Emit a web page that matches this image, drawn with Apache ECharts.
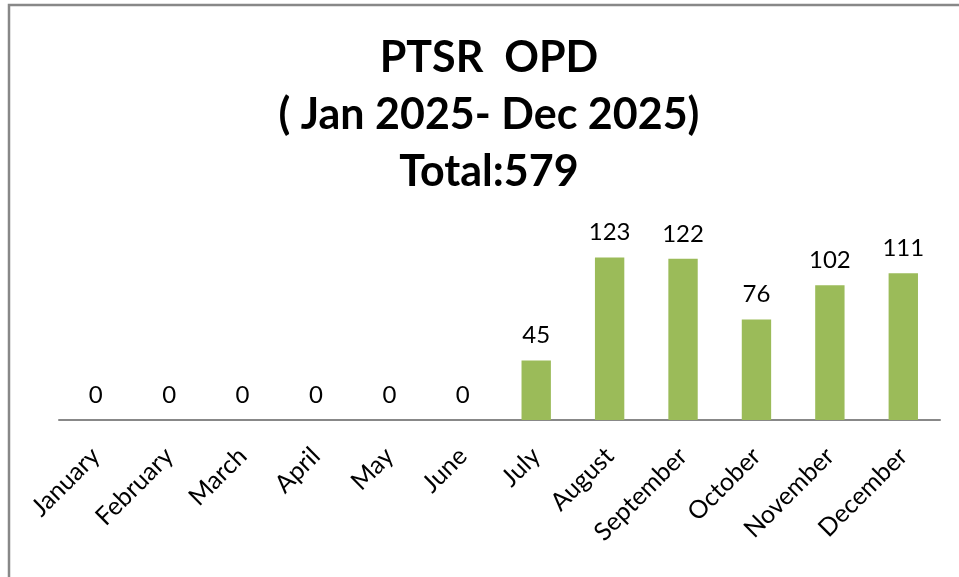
<!DOCTYPE html>
<html>
<head>
<meta charset="utf-8">
<script src="https://cdn.jsdelivr.net/npm/echarts@6/dist/echarts.min.js"></script>
<style>
  html, body { margin: 0; padding: 0; background: #fff; }
  #main { width: 959px; height: 577px; }
</style>
</head>
<body>
<div id="main"></div>
<script>
var months = ['January', 'February', 'March', 'April', 'May', 'June',
              'July', 'August', 'September', 'October', 'November', 'December'];
var opdCounts = [0, 0, 0, 0, 0, 0, 45, 123, 122, 76, 102, 111];
var titleLines = ['PTSR  OPD', '( Jan 2025- Dec 2025)', 'Total:579'];

var myChart = echarts.init(document.getElementById('main'));

var option = {
    backgroundColor: '#fff',
    animation: false,
    title: {
        text: titleLines.join('\n'),
        left: 489,
        textAlign: 'center',
        top: 30,
        padding: 0,
        textStyle: {
            fontFamily: 'Lato',
            fontWeight: 'bold',
            fontSize: 43,
            lineHeight: 57,
            color: '#000'
        }
    },
    graphic: [{
        type: 'rect',
        shape: { x: 9, y: 5, width: 1000, height: 700 },
        style: { fill: 'none', stroke: '#888', lineWidth: 2.5 },
        silent: true
    }],
    grid: { left: 59, right: 19, top: 235, bottom: 157 },
    xAxis: {
        type: 'category',
        data: months,
        axisLine: { lineStyle: { color: '#888', width: 2 } },
        axisTick: { show: false },
        axisLabel: {
            rotate: 45,
            interval: 0,
            margin: 32,
            fontFamily: 'Lato',
            fontSize: 25,
            color: '#000'
        }
    },
    yAxis: {
        type: 'value',
        min: 0,
        max: 140,
        show: false,
        splitLine: { show: false }
    },
    series: [{
        type: 'bar',
        data: opdCounts,
        barWidth: '40%',
        itemStyle: { color: '#9BBB59' },
        label: {
            show: true,
            position: 'top',
            distance: 13,
            fontFamily: 'Lato',
            fontSize: 24,
            color: '#000'
        }
    }]
};

myChart.setOption(option);
</script>
</body>
</html>
